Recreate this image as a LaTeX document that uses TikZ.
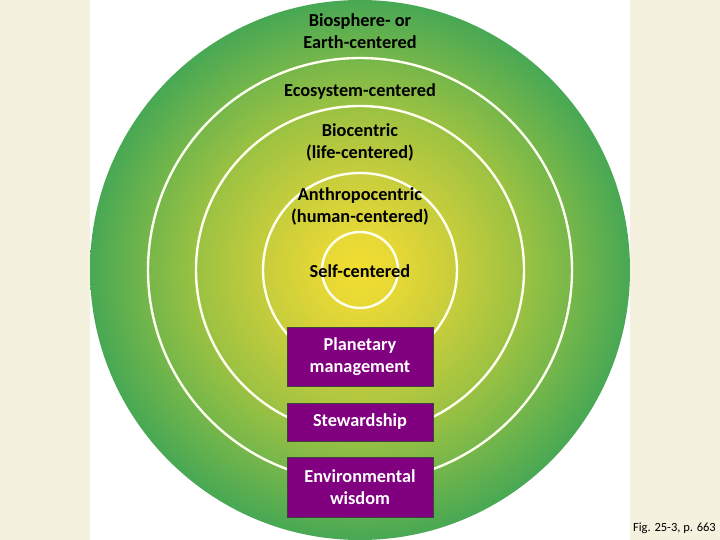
\documentclass[tikz,border=0pt]{standalone}
\usepackage{fontspec}
\setmainfont{Carlito}

\definecolor{paper}{RGB}{244,241,222}
\definecolor{ethicpurple}{RGB}{128,0,128}
\definecolor{ringwhite}{RGB}{255,255,240}
\definecolor{coreyellow}{RGB}{242,222,48}
\definecolor{selfyellow}{RGB}{230,216,54}
\definecolor{lifegreen}{RGB}{198,205,60}
\definecolor{ecogreen}{RGB}{156,194,66}
\definecolor{biogreen}{RGB}{118,183,74}
\definecolor{earthgreen}{RGB}{72,168,84}

% radial colour run of the rings, 25bp = outer edge of the circle
\pgfdeclareradialshading{earthglow}{\pgfpoint{0bp}{0bp}}{%
  color(0bp)=(coreyellow); color(3.5bp)=(selfyellow); color(9bp)=(lifegreen);
  color(15bp)=(ecogreen); color(19.6bp)=(biogreen); color(25bp)=(earthgreen);
  color(50bp)=(earthgreen)}

\begin{document}
\begin{tikzpicture}[
        x=1pt, y=-1pt,
        ring/.style={draw=ringwhite, line width=2.4pt},
        every node/.style={font=\fontsize{18.3}{22}\selectfont\bfseries, align=center, inner sep=0pt},
        label/.style={text=black},
        ethic/.style={draw=black!75, line width=0.6pt, fill=ethicpurple, text=white, minimum width=146pt},
    ]
    % page
    \fill[paper] (0,0) rectangle (720,540);
    \fill[white] (90,0) rectangle (630,540);
    \useasboundingbox (0,0) rectangle (720,540);

    \coordinate (c) at (360,270);
    \begin{scope}
        \clip (90,0) rectangle (630,540);
        \shade[shading=earthglow] (c) circle[radius=270];
    \end{scope}
    \draw[ring] (c) circle[radius=212];
    \draw[ring] (c) circle[radius=164];
    \draw[ring] (c) circle[radius=97];
    \draw[ring] (c) circle[radius=38];

    % world views
    \node[label](earth) at (360,31){Biosphere- or\\Earth-centered};
    \node[label](eco) at (360,92){Ecosystem-centered};
    \node[label](bio) at (360,142){Biocentric\\(life-centered)};
    \node[label](anthro) at (360,206){Anthropocentric\\(human-centered)};
    \node[label](self) at (360,271){Self-centered};

    % environmental ethics
    \node[ethic, minimum height=59pt](planet) at (360,356.5){Planetary\\management};
    \node[ethic, minimum height=38pt](steward) at (360,422){Stewardship};
    \node[ethic, minimum height=60pt](wisdom) at (360,487){Environmental\\wisdom};

    \node[font=\fontsize{12.5}{14}\selectfont, anchor=east](fig) at (716,528){Fig. 25-3, p. 663};
\end{tikzpicture}
\end{document}
